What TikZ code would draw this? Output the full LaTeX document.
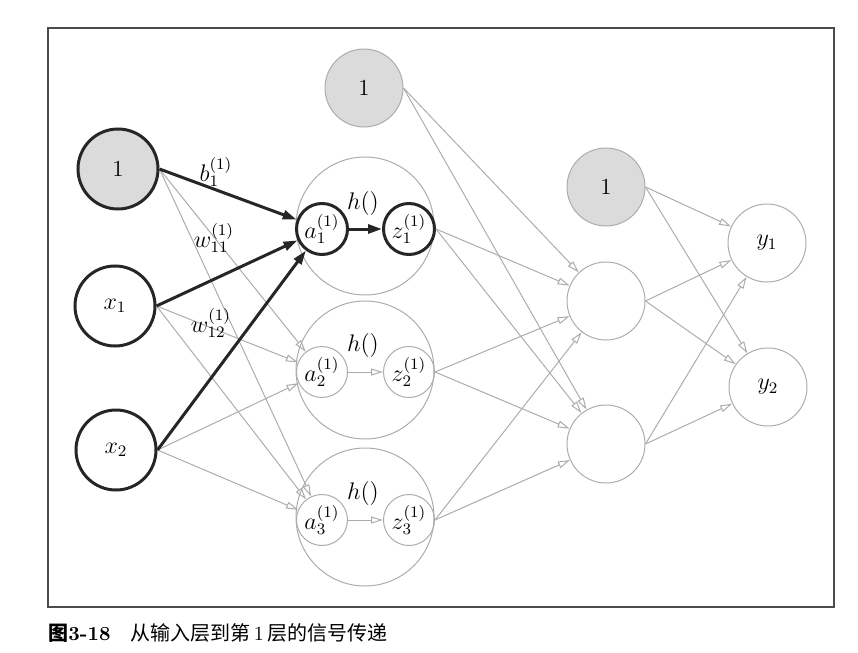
\documentclass[tikz,border=0pt]{standalone}
\usepackage{fontspec}
\newfontfamily\cjk{Noto Sans CJK SC}
\usetikzlibrary{arrows.meta}

\begin{document}
\begin{tikzpicture}[x=0.5pt, y=-0.5pt,
  every node/.style={font=\fontsize{11.5}{13}\selectfont},
  neuron/.style={circle, draw=black!85, line width=1.5pt, minimum size=40pt, inner sep=0pt},
  bias/.style={neuron, fill=gray!28},
  ghost/.style={circle, draw=gray!65, line width=0.5pt, minimum size=39pt, inner sep=0pt},
  ghostbias/.style={ghost, fill=gray!28},
  unit/.style={circle, draw=gray!65, line width=0.5pt, minimum size=69pt, inner sep=0pt},
  cell/.style={circle, draw=gray!65, line width=0.5pt, minimum size=25.5pt, inner sep=0pt},
  hot/.style={cell, draw=black!85, line width=1.5pt},
  sig/.style={draw=gray!65, line width=0.5pt, -{Triangle[open, length=6pt, width=3.5pt]}},
  hotsig/.style={draw=black!85, line width=1.5pt, -{Triangle[length=7pt, width=4.5pt]}}]
  \useasboundingbox (0,0) rectangle (858,653);
  \draw[line width=0.7pt, gray!60!black] (48,28) rectangle (834,607);
  %
  \node[bias] (b0) at (118,169) {1};
  \node[neuron] (x1) at (115,306) {$x_1$};
  \node[neuron] (x2) at (116,450) {$x_2$};
  %
  \node[unit] (h1) at (365,226) {};
  \node[unit] (h2) at (365,370) {};
  \node[unit] (h3) at (365,517) {};
  \node[hot] (a1) at (322,229) {$a_1^{(1)}$};
  \node[hot] (z1) at (409,229) {$z_1^{(1)}$};
  \node[cell] (a2) at (322,372) {$a_2^{(1)}$};
  \node[cell] (z2) at (409,372) {$z_2^{(1)}$};
  \node[cell] (a3) at (322,520) {$a_3^{(1)}$};
  \node[cell] (z3) at (409,520) {$z_3^{(1)}$};
  \node (f1) at (363,203) {$h()$};
  \node (f2) at (363,345) {$h()$};
  \node (f3) at (363,493) {$h()$};
  %
  \node[ghostbias] (b1) at (364,88) {1};
  \node[ghostbias] (b2) at (606,187) {1};
  \node[ghost] (n1) at (606,301) {};
  \node[ghost] (n2) at (606,444) {};
  \node[ghost] (y1) at (767,243) {$y_1$};
  \node[ghost] (y2) at (768,387) {$y_2$};
  %
  \draw[sig] (b0.east) -- (a2);
  \draw[sig] (b0.east) -- (a3);
  \draw[sig] (x1.east) -- (a2);
  \draw[sig] (x1.east) -- (a3);
  \draw[sig] (x2.east) -- (a2);
  \draw[sig] (x2.east) -- (a3);
  \draw[hotsig] (b0.east) -- (a1);
  \draw[hotsig] (x1.east) -- (a1);
  \draw[hotsig] (x2.east) -- (a1);
  %
  \draw[hotsig] (a1) -- (z1);
  \draw[sig] (a2) -- (z2);
  \draw[sig] (a3) -- (z3);
  %
  \draw[sig] (b1.east) -- (n1);
  \draw[sig] (b1.east) -- (n2);
  \draw[sig] (z1.east) -- (n1);
  \draw[sig] (z1.east) -- (n2);
  \draw[sig] (z2.east) -- (n1);
  \draw[sig] (z2.east) -- (n2);
  \draw[sig] (z3.east) -- (n1);
  \draw[sig] (z3.east) -- (n2);
  %
  \draw[sig] (b2.east) -- (y1);
  \draw[sig] (b2.east) -- (y2);
  \draw[sig] (n1.east) -- (y1);
  \draw[sig] (n1.east) -- (y2);
  \draw[sig] (n2.east) -- (y1);
  \draw[sig] (n2.east) -- (y2);
  %
  \node (lb) at (216,172) {$b_1^{(1)}$};
  \node (lw11) at (214,238) {$w_{11}^{(1)}$};
  \node (lw12) at (211,323) {$w_{12}^{(1)}$};
  %
  \node[anchor=west, inner sep=0pt, font=\fontsize{10}{12}\selectfont] (cap) at (48,633)
    {{\cjk\bfseries 图}\textbf{3-18}\quad{\cjk 从输入层到第}\,1\,{\cjk 层的信号传递}};
\end{tikzpicture}
\end{document}
